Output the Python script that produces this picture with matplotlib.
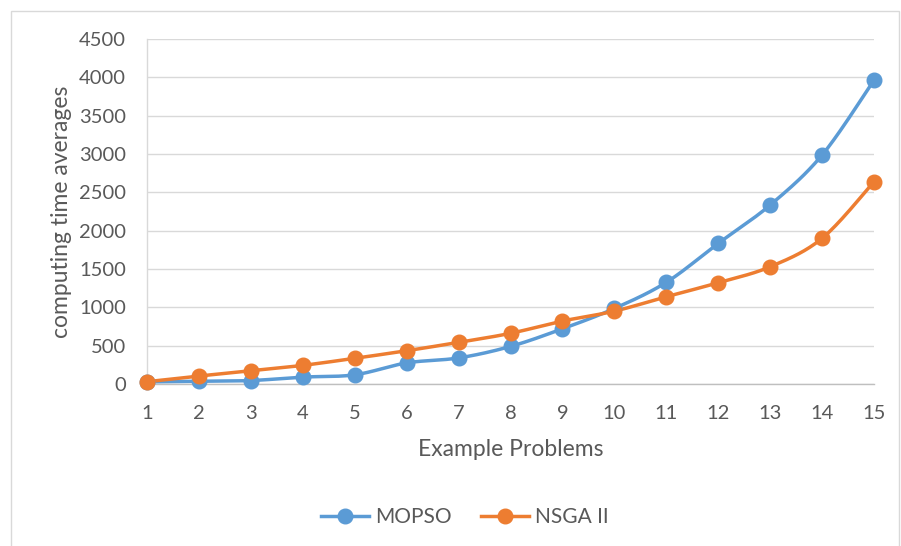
import numpy as np
import matplotlib
matplotlib.use("Agg")
import matplotlib.pyplot as plt
from matplotlib.patches import Rectangle

problems = list(range(1, 16))
mopso = [28, 35, 45, 90, 120, 275, 340, 490, 720, 985, 1326, 1834, 2334, 2986, 3963]
nsga2 = [30, 104, 172, 243, 335, 434, 543, 661, 821, 950, 1138, 1321, 1529, 1900, 2638]
series_names = ["MOPSO", "NSGA II"]
colors = ["#5B9BD5", "#ED7D31"]
yticks = list(range(0, 4501, 500))

plt.rcParams['font.family'] = ['Lato', 'DejaVu Sans']
txt = "#595959"


def smooth(x, y, n=30):
    x = np.asarray(x, float)
    y = np.asarray(y, float)
    px = np.concatenate([[x[0]], x, [x[-1]]])
    py = np.concatenate([[y[0]], y, [y[-1]]])
    xs, ys = [], []
    t = np.linspace(0, 1, n)
    for i in range(1, len(px) - 2):
        p0, p1, p2, p3 = (np.array([px[j], py[j]]) for j in (i - 1, i, i + 1, i + 2))
        c1 = p1 + (p2 - p0) / 6
        c2 = p2 - (p3 - p1) / 6
        pts = ((1 - t) ** 3)[:, None] * p1 + (3 * (1 - t) ** 2 * t)[:, None] * c1 \
            + (3 * (1 - t) * t ** 2)[:, None] * c2 + (t ** 3)[:, None] * p2
        xs.extend(pts[:, 0]); ys.extend(pts[:, 1])
    return xs, ys


fig = plt.figure(figsize=(9.01, 5.46), dpi=100)
fig.patches.append(Rectangle((11 / 901, -0.01), 888 / 901, 1 - 11 / 546 + 0.01,
                             transform=fig.transFigure, fill=False,
                             edgecolor="#D9D9D9", linewidth=1.0))
ax = fig.add_axes([147 / 901, 1 - 384 / 546, (874 - 147) / 901, (384 - 39) / 546])

for vals, name, c in zip([mopso, nsga2], series_names, colors):
    sx, sy = smooth(problems, vals)
    ax.plot(sx, sy, color=c, linewidth=2.5, solid_capstyle='round', zorder=3, clip_on=False)
    ax.plot(problems, vals, linestyle='none', marker='o', markersize=10.5,
            color=c, zorder=4, clip_on=False)

ax.set_xlim(1, 15)
ax.set_ylim(0, 4500)
ax.set_xticks(problems)
ax.set_yticks(yticks)
ax.yaxis.grid(True, color="#D9D9D9", linewidth=1.0)
ax.set_axisbelow(True)
for s in ["top", "right"]:
    ax.spines[s].set_visible(False)
ax.spines["left"].set_color("#D9D9D9")
ax.spines["bottom"].set_color("#BFBFBF")
ax.spines["left"].set_linewidth(1.0)
ax.spines["bottom"].set_linewidth(1.0)
ax.tick_params(axis='both', length=0, labelsize=14.5, labelcolor=txt)
ax.tick_params(axis='y', pad=15)
ax.tick_params(axis='x', pad=15)
ax.set_xlabel("Example Problems", fontsize=16.5, color=txt, labelpad=12)
ax.set_ylabel("computing time averages", fontsize=16.5, color=txt, labelpad=5)

handles = [plt.Line2D([], [], color=c, linewidth=2.5, marker='o', markersize=10.5)
           for c in colors]
fig.legend(handles, series_names, loc='center', bbox_to_anchor=(0.516, 1 - 517 / 546),
           ncol=2, frameon=False, fontsize=15, labelcolor=txt,
           handlelength=2.3, columnspacing=1.4, handletextpad=0.3)

fig.savefig("out.png", dpi=100, facecolor="white")
